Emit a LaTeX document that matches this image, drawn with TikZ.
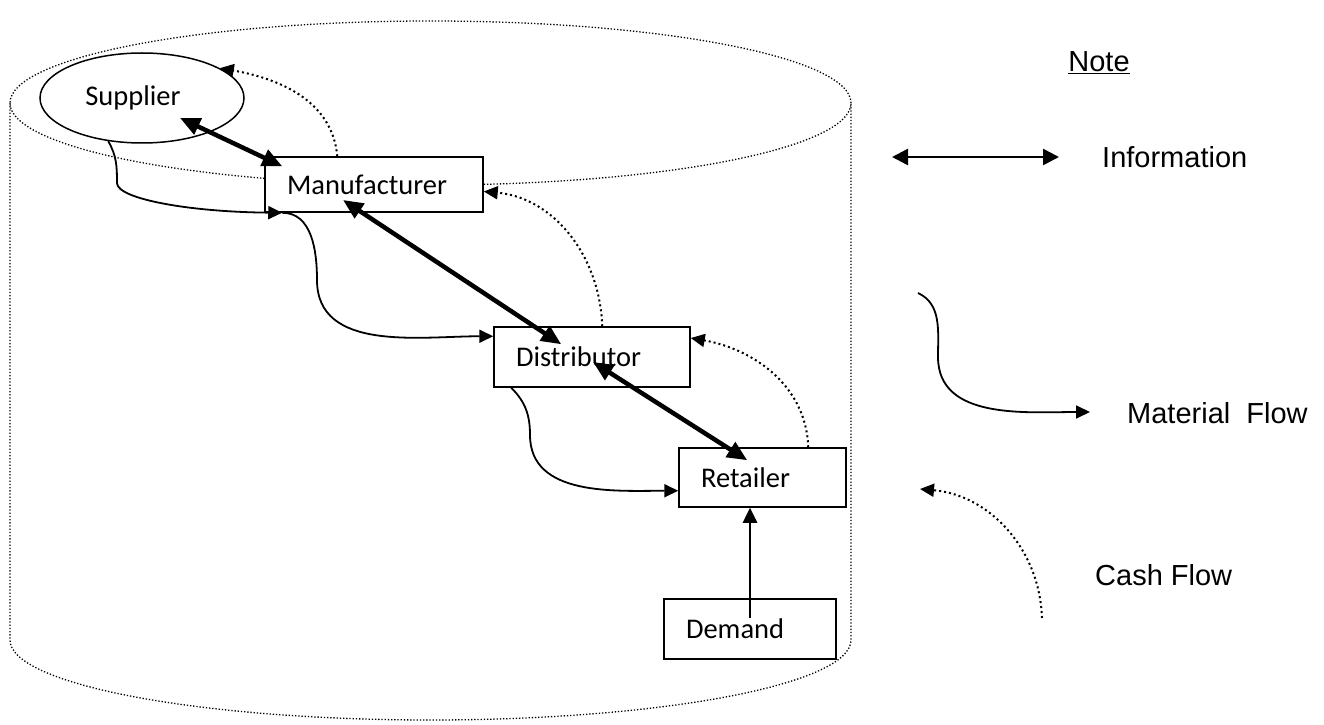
\documentclass[tikz,border=0pt]{standalone}
\usepackage{fontspec}
\setmainfont{Carlito}
\newfontfamily\notefont{Liberation Sans}
\usetikzlibrary{arrows.meta,shapes.geometric}

\begin{document}
\begin{tikzpicture}[
  x=1pt, y=1pt,
  font=\fontsize{28.5}{34}\selectfont,
  box/.style={draw, line width=1.5pt, fill=white, text width=#1, align=left, inner xsep=22pt, inner ysep=0pt, minimum height=58pt},
  box/.default=120pt,
  legend/.style={font=\notefont\fontsize{29}{34}\selectfont, inner sep=0pt, anchor=west},
  cyl/.style={line width=1.3pt, dash pattern=on 1.3pt off 1.9pt},
  mat/.style={line width=1.8pt, -{Triangle[length=14pt,width=13pt]}},
  cash/.style={line width=2pt, dash pattern=on 2pt off 3pt, -{Triangle[length=14pt,width=13pt]}},
  info/.style={line width=4.5pt, {Triangle[length=20pt,width=17pt]}-{Triangle[length=20pt,width=17pt]}},
]
\useasboundingbox (0,0) rectangle (1324,724);

\draw[cyl] (430.5,621) ellipse [x radius=420.5, y radius=82];
\draw[cyl] (10,621) -- (10,84) arc[start angle=180, end angle=360, x radius=420.5, y radius=80] -- (851,621);

\node[draw, ellipse, line width=1.5pt, fill=white, minimum width=204pt, minimum height=90pt, inner sep=0pt] (sup) at (142,626) {\raisebox{3pt}{Supplier}\hspace*{18pt}};
\node[box=174pt, minimum height=55pt] (man) at (374,539.5) {Manufacturer};
\node[box=152pt, minimum height=60pt] (dis) at (592,367) {Distributor};
\node[box=123pt, minimum height=59pt] (ret) at (762.5,246.5) {Retailer};
\node[box=128pt, minimum height=60pt] (dem) at (750,95) {Demand};

\draw[info] ([shift={(38,-20)}]sup.center) -- ([shift={(18,-10)}]man.north west);
\draw[info] ([shift={(-31,-15.5)}]man.center) -- ([shift={(68,-18)}]dis.north west);
\draw[info] ([shift={(1,-5)}]dis.center) -- ([shift={(69,-13)}]ret.north west);

\draw[mat] (sup.232) to[out=-60,in=90] (117,541) .. controls (117,525) and (190,512) .. ([xshift=18pt]man.south west);
\draw[mat] ([xshift=18pt]man.south west) to[out=0,in=90] (317,444) to[out=-90,in=180] ([yshift=-10pt]dis.north west);
\draw[mat] ([xshift=18pt]dis.south west) to[out=-45,in=90] (530,289) to[out=-90,in=180] ([yshift=17pt]ret.south west);
\draw[line width=2.6pt, -{Triangle[length=15pt,width=14pt]}] ([yshift=11pt]dem.center) -- (dem.center |- ret.south);

\draw[cash] ([xshift=73pt]man.north west) to[out=95,in=-10] (sup.21);
\draw[cash] ([xshift=109pt]dis.north west) to[out=92,in=-5] ([yshift=-7pt]man.east);
\draw[cash] ([xshift=130pt]ret.north west) to[out=92,in=-10] ([yshift=19pt]dis.east);

\node[legend, anchor=center] (note) at (1099,661) {\underline{Note}};
\coordinate (infoL) at (892,567);
\coordinate (infoR) at (1059,567);
\draw[line width=2.5pt, {Triangle[length=16pt,width=16pt]}-{Triangle[length=16pt,width=16pt]}] (infoL) -- (infoR);
\node[legend] (infoT) at (1102,567) {Information};

\coordinate (matA) at (918,431);
\coordinate (matB) at (1090,312);
\draw[mat] (matA) to[out=-25,in=90] (938,367) to[out=-90,in=180] (matB);
\node[legend] (matT) at (1127,311) {Material\ \ Flow};

\coordinate (cashA) at (1042,106);
\coordinate (cashB) at (920,235);
\draw[cash] (cashA) to[out=92,in=-5] (cashB);
\node[legend] (cashT) at (1095,149) {Cash Flow};
\end{tikzpicture}
\end{document}
